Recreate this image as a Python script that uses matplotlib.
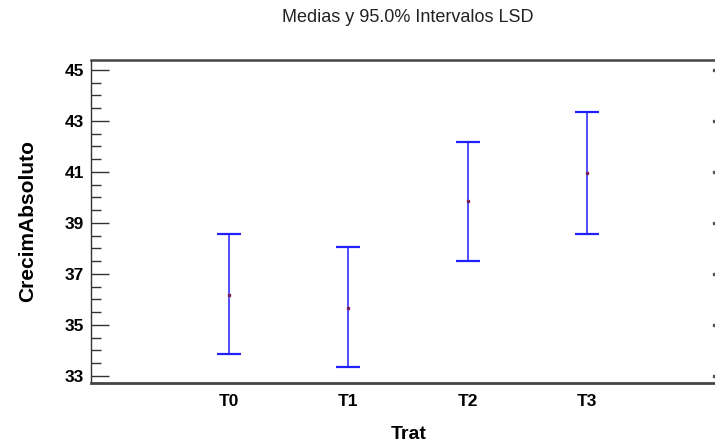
import matplotlib
matplotlib.use("Agg")
import matplotlib.pyplot as plt
import matplotlib.transforms as mtransforms
from matplotlib.ticker import MultipleLocator

# Medias y limites del intervalo LSD (95%) por tratamiento
tratamientos = ["T0", "T1", "T2", "T3"]
medias = [36.19, 35.68, 39.85, 40.96]
lim_inf = [33.86, 33.33, 37.49, 38.58]
lim_sup = [38.58, 38.04, 42.19, 43.35]
ticks_y = [33, 35, 37, 39, 41, 43, 45]

plt.rcParams["font.family"] = ["Liberation Sans", "DejaVu Sans"]

fig = plt.figure(figsize=(7.15, 4.45), dpi=100)
fig.patch.set_facecolor("white")

# el eje se sale un poco por la derecha, como en el original
ax = fig.add_axes([91 / 715, 62 / 445, 636 / 715, 323 / 445])

x = list(range(1, len(tratamientos) + 1))
err_low = [m - lo for m, lo in zip(medias, lim_inf)]
err_high = [hi - m for m, hi in zip(medias, lim_sup)]

ax.errorbar(x, medias, yerr=[err_low, err_high], fmt="none",
            ecolor="#2020ff", elinewidth=1.1, capsize=8.5, capthick=1.6)
ax.plot(x, medias, "s", color="#7a1f5c", markersize=2.0, zorder=3)

ax.set_xlim(1 - 138 / 119.3, 1 + 498 / 119.3)
ax.set_ylim(32.72, 45.39)

ax.set_xticks(x)
ax.set_xticklabels(tratamientos, fontsize=12.5, fontweight="bold")
ax.tick_params(axis="x", length=0, pad=8)

ax.set_yticks(ticks_y)
ax.yaxis.set_minor_locator(MultipleLocator(0.5))
ax.tick_params(axis="y", which="major", direction="in", length=13,
               width=1, labelsize=12.5, pad=5, color="#333333")
ax.tick_params(axis="y", which="minor", direction="in", length=7,
               width=1, color="#333333")
for lbl in ax.get_yticklabels():
    lbl.set_fontweight("bold")

# marcas pequenas en el borde derecho
trans = mtransforms.blended_transform_factory(fig.transFigure, ax.transData)
ax.plot([713.5 / 715] * len(ticks_y), ticks_y, "s", markersize=1.6,
        color="#555555", transform=trans, clip_on=False)

ax.spines["left"].set_color("#333333")
ax.spines["left"].set_linewidth(1.0)
ax.spines["top"].set_color("#444444")
ax.spines["top"].set_linewidth(1.8)
ax.spines["bottom"].set_color("#444444")
ax.spines["bottom"].set_linewidth(2.0)
ax.spines["right"].set_visible(False)

ax.set_xlabel("Trat", fontsize=14, fontweight="bold", labelpad=12)
ax.set_ylabel("CrecimAbsoluto", fontsize=15, fontweight="bold", labelpad=20)

fig.text(408 / 715, 1 - 18 / 445, "Medias y 95.0% Intervalos LSD",
         ha="center", va="center", fontsize=13, color="#222222")

fig.savefig("out.png", dpi=100, facecolor="white")
